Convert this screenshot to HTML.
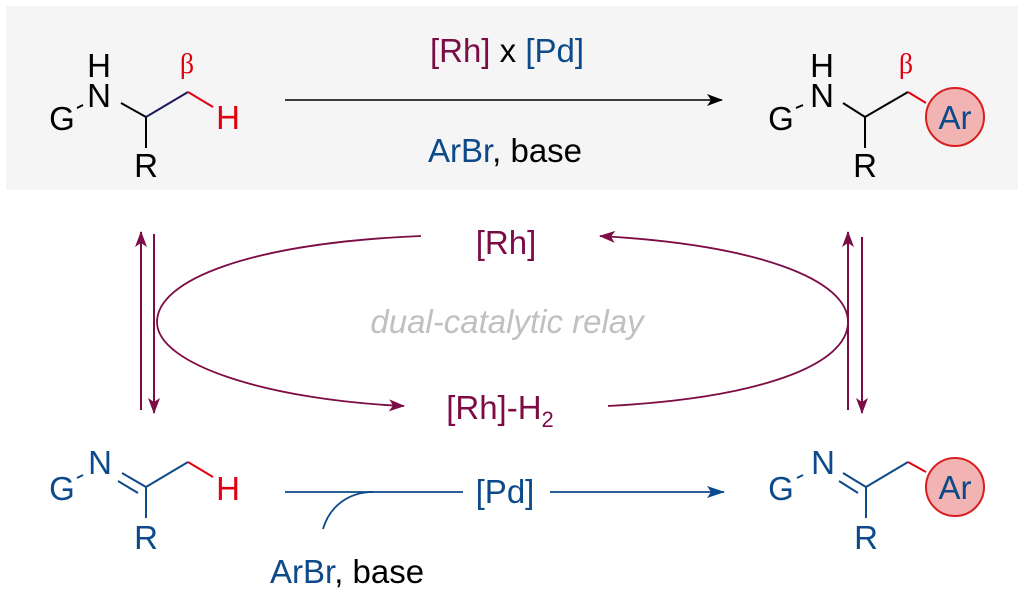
<!DOCTYPE html>
<html><head><meta charset="utf-8"><style>
html,body{margin:0;padding:0;background:#fff;}
svg{display:block;font-family:"Liberation Sans",Arial,sans-serif;}
</style></head><body>
<svg width="1024" height="596" viewBox="0 0 1024 596" xmlns="http://www.w3.org/2000/svg">
<defs>
<marker id="ak" markerWidth="16" markerHeight="12" refX="15" refY="6" orient="auto" markerUnits="userSpaceOnUse"><path d="M0,0 L16,6 L0,12 L4,6 Z" fill="#000"/></marker>
<marker id="am" markerWidth="16" markerHeight="12" refX="15" refY="6" orient="auto" markerUnits="userSpaceOnUse"><path d="M0,0 L16,6 L0,12 L4,6 Z" fill="#7c0c45"/></marker>
<marker id="ab" markerWidth="18" markerHeight="12" refX="17" refY="6" orient="auto" markerUnits="userSpaceOnUse"><path d="M0,0 L18,6 L0,12 L4,6 Z" fill="#0d4a8a"/></marker>
</defs>
<rect x="6" y="6" width="1012" height="184" fill="#f5f5f5"/>

<g font-size="33" fill="#000">
<text x="62" y="130" text-anchor="middle">G</text>
<text x="99" y="107" text-anchor="middle">N</text>
<text x="99" y="77" text-anchor="middle">H</text>
<text x="146" y="177" text-anchor="middle">R</text>
</g>
<g stroke="#000" stroke-width="2" fill="none">
<line x1="77" y1="108" x2="83" y2="105"/>
<line x1="121" y1="103" x2="146" y2="117"/>
<line x1="146" y1="117" x2="146" y2="148"/>
</g>
<line x1="146" y1="117" x2="188" y2="92" stroke="#1a1a60" stroke-width="2"/>
<line x1="188" y1="92" x2="213" y2="107" stroke="#e00010" stroke-width="2"/>
<text x="228" y="129" text-anchor="middle" font-size="33" fill="#e00010">H</text>
<text x="187" y="73" text-anchor="middle" font-size="28" fill="#e00010" font-family="Liberation Serif,serif">β</text>

<line x1="285" y1="100" x2="722" y2="100" stroke="#000" stroke-width="1.6" marker-end="url(#ak)"/>
<text x="507" y="62" text-anchor="middle" font-size="33"><tspan fill="#7c0c45">[Rh]</tspan><tspan fill="#000"> x </tspan><tspan fill="#0d4a8a">[Pd]</tspan></text>
<text x="505" y="162" text-anchor="middle" font-size="33"><tspan fill="#0d4a8a">ArBr</tspan><tspan fill="#000">, base</tspan></text>

<g font-size="33" fill="#000">
<text x="781" y="130" text-anchor="middle">G</text>
<text x="822" y="107" text-anchor="middle">N</text>
<text x="822" y="77" text-anchor="middle">H</text>
<text x="865" y="177" text-anchor="middle">R</text>
</g>
<g stroke="#000" stroke-width="2" fill="none">
<line x1="796" y1="108" x2="803" y2="105"/>
<line x1="843" y1="103" x2="865" y2="117"/>
<line x1="865" y1="117" x2="865" y2="148"/>
<line x1="865" y1="117" x2="908" y2="92"/>
</g>
<line x1="908" y1="92" x2="926" y2="103" stroke="#e00010" stroke-width="2"/>
<text x="906" y="73" text-anchor="middle" font-size="28" fill="#e00010" font-family="Liberation Serif,serif">β</text>
<circle cx="955" cy="117" r="29" fill="#f2b3b3" stroke="#d82020" stroke-width="2"/>
<text x="955" y="129" text-anchor="middle" font-size="33" fill="#0d4a8a">Ar</text>

<g stroke="#7c0c45" stroke-width="2">
<line x1="141" y1="410" x2="141" y2="232" marker-end="url(#am)"/>
<line x1="154" y1="234" x2="154" y2="413" marker-end="url(#am)"/>
<line x1="848" y1="410" x2="848" y2="232" marker-end="url(#am)"/>
<line x1="862" y1="237" x2="862" y2="413" marker-end="url(#am)"/>
</g>

<g stroke="#7c0c45" stroke-width="1.8" fill="none">
<path d="M421,236 C250,243 157,280 157,322 C157,365 270,400 404,406" marker-end="url(#am)"/>
<path d="M608,406 C760,398 848,365 848,322 C848,280 760,245 600,236" marker-end="url(#am)"/>
</g>
<text x="506" y="254" text-anchor="middle" font-size="33" fill="#7c0c45">[Rh]</text>
<text x="500" y="419" text-anchor="middle" font-size="33" fill="#7c0c45">[Rh]-H<tspan font-size="22" dy="8">2</tspan></text>
<text x="507" y="333" text-anchor="middle" font-size="33" font-style="italic" fill="#c0c0c0">dual-catalytic relay</text>

<g font-size="33" fill="#0d4a8a">
<text x="62" y="500" text-anchor="middle">G</text>
<text x="100" y="474" text-anchor="middle">N</text>
<text x="146" y="549" text-anchor="middle">R</text>
</g>
<g stroke="#0d4a8a" stroke-width="2" fill="none">
<line x1="77" y1="478" x2="83" y2="475"/>
<line x1="122" y1="473" x2="146" y2="487"/>
<line x1="118" y1="481" x2="138" y2="493"/>
<line x1="146" y1="487" x2="146" y2="518"/>
<line x1="146" y1="487" x2="188" y2="462"/>
</g>
<line x1="188" y1="462" x2="213" y2="477" stroke="#e00010" stroke-width="2"/>
<text x="228" y="500" text-anchor="middle" font-size="33" fill="#e00010">H</text>

<g stroke="#0d4a8a" stroke-width="1.8" fill="none">
<line x1="285" y1="492" x2="463" y2="492"/>
<line x1="550" y1="492" x2="724" y2="492" marker-end="url(#ab)"/>
<path d="M323,529 C330,505 350,492 373,492"/>
</g>
<text x="505" y="503" text-anchor="middle" font-size="33" fill="#0d4a8a">[Pd]</text>
<text x="270" y="583" font-size="33"><tspan fill="#0d4a8a">ArBr</tspan><tspan fill="#000">, base</tspan></text>

<g font-size="33" fill="#0d4a8a">
<text x="781" y="500" text-anchor="middle">G</text>
<text x="823" y="474" text-anchor="middle">N</text>
<text x="866" y="549" text-anchor="middle">R</text>
</g>
<g stroke="#0d4a8a" stroke-width="2" fill="none">
<line x1="797" y1="478" x2="803" y2="475"/>
<line x1="843" y1="473" x2="866" y2="487"/>
<line x1="839" y1="481" x2="858" y2="493"/>
<line x1="866" y1="487" x2="866" y2="518"/>
<line x1="866" y1="487" x2="908" y2="462"/>
</g>
<line x1="908" y1="462" x2="926" y2="472" stroke="#e00010" stroke-width="2"/>
<circle cx="955" cy="487" r="29" fill="#f2b3b3" stroke="#d82020" stroke-width="2"/>
<text x="955" y="499" text-anchor="middle" font-size="33" fill="#0d4a8a">Ar</text>
</svg>
</body></html>
